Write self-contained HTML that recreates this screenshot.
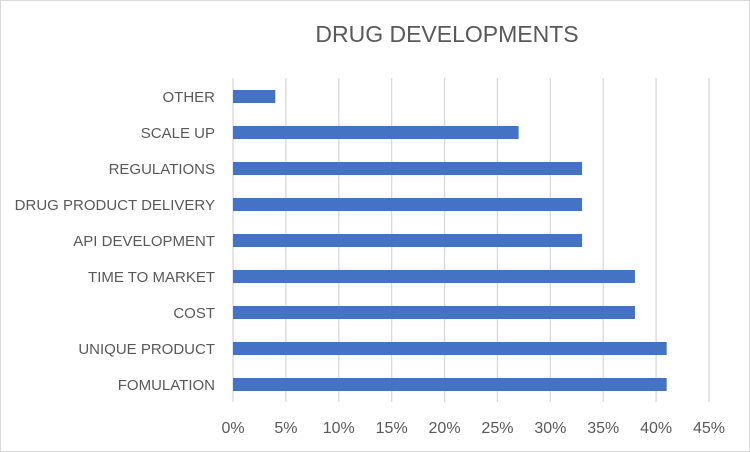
<!DOCTYPE html>
<html><head><meta charset="utf-8"><style>
html,body{margin:0;padding:0;background:#fff;}
svg{display:block;font-family:"Liberation Sans",sans-serif;}
</style></head><body>
<svg width="750" height="452" viewBox="0 0 750 452">
<rect x="0.5" y="0.5" width="749" height="451" fill="#fff" stroke="#d9d9d9"/>
<text x="447" y="42" text-anchor="middle" font-size="23" fill="#595959">DRUG DEVELOPMENTS</text>
<g id="grid"></g><g id="bars"></g><g id="ylabels"></g><g id="xlabels"></g>
</svg>
<script>
const categories=["OTHER","SCALE UP","REGULATIONS","DRUG PRODUCT DELIVERY","API DEVELOPMENT","TIME TO MARKET","COST","UNIQUE PRODUCT","FOMULATION"];
const values=[4,27,33,33,33,38,38,41,41];
const ticks=[0,5,10,15,20,25,30,35,40,45];
const tickLabels=["0%","5%","10%","15%","20%","25%","30%","35%","40%","45%"];
const NS="http://www.w3.org/2000/svg";
const x0=233,x1=709,yTop=78,band=36,maxV=45;
const xs=v=>x0+(x1-x0)*v/maxV;
const yb=i=>yTop+i*band;
function mk(t,a){const e=document.createElementNS(NS,t);for(const k in a)e.setAttribute(k,a[k]);return e;}
const g=document.getElementById('grid'),b=document.getElementById('bars'),yl=document.getElementById('ylabels'),xl=document.getElementById('xlabels');
ticks.forEach((t,i)=>{
 const l=mk('line',{x1:xs(t),x2:xs(t),y1:yTop,y2:yTop+band*categories.length,stroke:'#d9d9d9','stroke-width':1.3});
 
 
 g.appendChild(l);
 const tx=mk('text',{x:xs(t),y:433,'text-anchor':'middle','font-size':16,fill:'#595959'});
 tx.textContent=tickLabels[i];
 
 
 xl.appendChild(tx);
});
categories.forEach((c,i)=>{
 const r=mk('rect',{x:x0,y:yb(i)+12,width:xs(values[i])-x0,height:13,fill:'#4472c4'});
 
 
 b.appendChild(r);
 const t=mk('text',{x:215,y:yb(i)+24,'text-anchor':'end','font-size':15,fill:'#595959'});
 t.textContent=c;
 
 
 yl.appendChild(t);
});
</script>
</body></html>
